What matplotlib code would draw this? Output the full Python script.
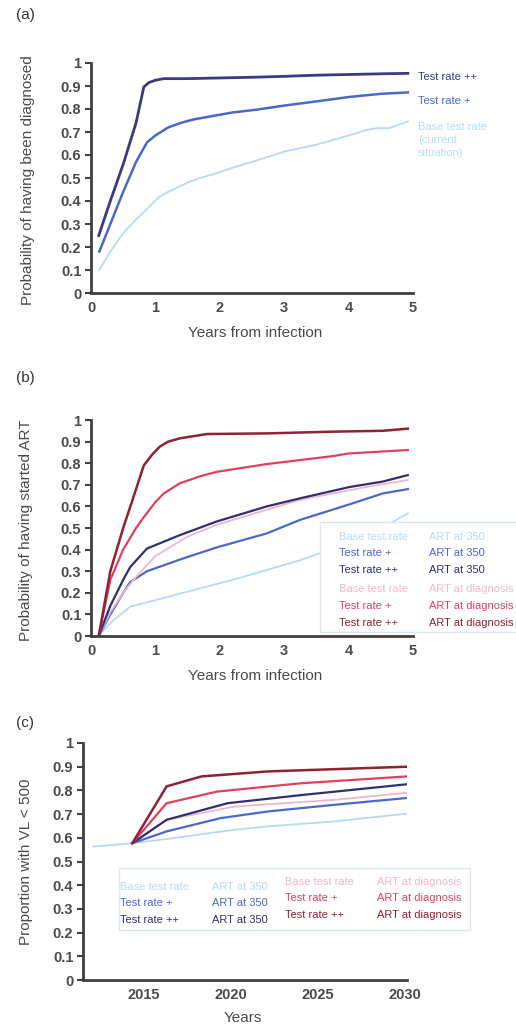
import numpy as np
import matplotlib
matplotlib.use("Agg")
import matplotlib.pyplot as plt
from matplotlib.patches import Rectangle

plt.rcParams['font.family'] = ['Liberation Sans', 'DejaVu Sans']

W, H = 516, 1027

# ---- panel (a): probability of having been diagnosed
a_x_pp = [0.12, 0.3, 0.5, 0.7, 0.82, 0.9, 1.0, 1.13, 1.5, 2.0, 2.5, 3.0, 3.5, 4.0, 4.5, 4.92]
a_pp = [0.25, 0.40, 0.56, 0.74, 0.896, 0.915, 0.925, 0.932, 0.932, 0.935, 0.938, 0.942, 0.947, 0.950, 0.953, 0.955]
a_x_p = [0.13, 0.3, 0.5, 0.7, 0.87, 1.0, 1.2, 1.4, 1.6, 2.0, 2.2, 2.57, 3.0, 3.5, 4.0, 4.5, 4.92]
a_p = [0.18, 0.30, 0.44, 0.57, 0.655, 0.685, 0.72, 0.74, 0.755, 0.775, 0.785, 0.797, 0.815, 0.833, 0.852, 0.866, 0.872]
a_x_base = [0.13, 0.3, 0.5, 0.7, 0.87, 1.07, 1.2, 1.5, 1.69, 2.0, 2.2, 2.5, 3.0, 3.5, 4.0, 4.3, 4.45, 4.64, 4.92]
a_base = [0.10, 0.18, 0.26, 0.32, 0.365, 0.42, 0.44, 0.48, 0.50, 0.525, 0.545, 0.57, 0.615, 0.645, 0.685, 0.71, 0.717, 0.717, 0.746]
a_labels = ['Test rate ++', 'Test rate +', 'Base test rate\n(current\nsituation)']

# ---- panel (b): probability of having started ART
b_x_base350 = [0.12, 0.3, 0.5, 0.61, 1.18, 2.2, 3.24, 4.28, 4.92]
b_base350 = [0.0, 0.06, 0.11, 0.136, 0.18, 0.26, 0.35, 0.46, 0.568]
b_x_p350 = [0.12, 0.3, 0.5, 0.61, 0.87, 1.44, 1.95, 2.73, 3.24, 4.02, 4.53, 4.92]
b_p350 = [0.0, 0.10, 0.20, 0.25, 0.30, 0.36, 0.41, 0.475, 0.537, 0.61, 0.66, 0.68]
b_x_pp350 = [0.12, 0.3, 0.5, 0.61, 0.87, 1.38, 1.95, 2.73, 3.24, 4.02, 4.53, 4.92]
b_pp350 = [0.0, 0.14, 0.26, 0.32, 0.405, 0.467, 0.53, 0.60, 0.637, 0.69, 0.715, 0.745]
b_x_basedx = [0.12, 0.3, 0.5, 0.66, 1.0, 1.5, 1.95, 3.24, 4.28, 4.92]
b_basedx = [0.0, 0.11, 0.20, 0.26, 0.37, 0.46, 0.515, 0.63, 0.69, 0.722]
b_x_pdx = [0.12, 0.3, 0.5, 0.7, 0.82, 1.0, 1.13, 1.38, 1.7, 1.95, 2.73, 3.76, 4.0, 4.92]
b_pdx = [0.0, 0.26, 0.40, 0.50, 0.55, 0.62, 0.66, 0.707, 0.74, 0.76, 0.796, 0.833, 0.845, 0.861]
b_x_ppdx = [0.12, 0.3, 0.5, 0.7, 0.82, 0.95, 1.07, 1.2, 1.38, 1.8, 2.73, 3.76, 4.53, 4.92]
b_ppdx = [0.0, 0.30, 0.50, 0.68, 0.79, 0.84, 0.877, 0.90, 0.915, 0.935, 0.938, 0.946, 0.95, 0.96]

# ---- panel (c): proportion with VL < 500
c_x_base350 = [2012.1, 2014.33, 2016.3, 2018.3, 2020.2, 2022.1, 2025.9, 2030.1]
c_base350 = [0.563, 0.577, 0.595, 0.615, 0.634, 0.648, 0.669, 0.702]
c_x_p350 = [2014.33, 2016.3, 2019.4, 2022.1, 2025.9, 2030.1]
c_p350 = [0.577, 0.627, 0.683, 0.711, 0.739, 0.768]
c_x_pp350 = [2014.33, 2016.3, 2019.8, 2024.0, 2030.1]
c_pp350 = [0.577, 0.676, 0.746, 0.780, 0.826]
c_x_basedx = [2014.33, 2016.3, 2020.2, 2025.9, 2030.1]
c_basedx = [0.577, 0.676, 0.732, 0.760, 0.790]
c_x_pdx = [2014.33, 2016.3, 2019.2, 2024.0, 2030.1]
c_pdx = [0.577, 0.746, 0.795, 0.830, 0.859]
c_x_ppdx = [2014.33, 2016.3, 2018.3, 2022.1, 2030.1]
c_ppdx = [0.577, 0.817, 0.859, 0.880, 0.900]

rates = ['Base test rate', 'Test rate +', 'Test rate ++']
strategies = ['ART at 350', 'ART at diagnosis']

col_base350 = '#b3dcf3'
col_p350 = '#4a68c8'
col_pp350 = '#2f2f72'
col_basedx = '#f1b6cb'
col_pdx = '#e0405e'
col_ppdx = '#8e2232'
spine_col = '#404040'
text_col = '#4a4a4a'
small = 8

fig = plt.figure(figsize=(W / 100, H / 100), dpi=100)


def fx(px):
    return px / W


def fy(py):
    return 1 - py / H


def style_axes(ax):
    for s in ['top', 'right']:
        ax.spines[s].set_visible(False)
    for s in ['left', 'bottom']:
        ax.spines[s].set_linewidth(2)
        ax.spines[s].set_color(spine_col)
    ax.set_ylim(0, 1)
    ax.set_yticks(np.arange(0, 1.01, 0.1))
    ax.set_yticklabels(['0', '0.1', '0.2', '0.3', '0.4', '0.5', '0.6', '0.7', '0.8', '0.9', '1'],
                       fontweight='bold')
    ax.tick_params(axis='y', length=4, width=1.5, color=spine_col, labelsize=10.5,
                   labelcolor=text_col, pad=3)
    ax.tick_params(axis='x', length=0, labelsize=10.5, labelcolor=text_col, pad=6)
    for t in ax.get_xticklabels():
        t.set_fontweight('bold')


def axis_text(px, py, s, rot=0):
    fig.text(fx(px), fy(py), s, fontsize=11, rotation=rot, ha='center', va='center',
             color=text_col)


# panel (a)
ax1 = fig.add_axes([fx(91), fy(293), fx(413) - fx(91), fy(63) - fy(293)])
ax1.set_xlim(0, 5)
ax1.set_xticks(range(6))
style_axes(ax1)
ax1.plot(a_x_base, a_base, color=col_base350, lw=1.3)
ax1.plot(a_x_p, a_p, color=col_p350, lw=1.8)
ax1.plot(a_x_pp, a_pp, color='#3a3a82', lw=2.0)
fig.text(fx(418), fy(77), a_labels[0], color='#3a3a82', fontsize=small, va='center')
fig.text(fx(418), fy(101), a_labels[1], color=col_p350, fontsize=small, va='center')
fig.text(fx(418), fy(122), a_labels[2], color=col_base350, fontsize=small, va='top',
         linespacing=1.35)
fig.text(fx(16), fy(15), '(a)', fontsize=11, va='center', color='#333333')
axis_text(255, 333, 'Years from infection')
axis_text(28, 180, 'Probability of having been diagnosed', 90)

# panel (b)
ax2 = fig.add_axes([fx(91), fy(636), fx(413) - fx(91), fy(420) - fy(636)])
ax2.set_xlim(0, 5)
ax2.set_xticks(range(6))
style_axes(ax2)
ax2.plot(b_x_base350, b_base350, color=col_base350, lw=1.3)
ax2.plot(b_x_p350, b_p350, color=col_p350, lw=1.6)
ax2.plot(b_x_basedx, b_basedx, color=col_basedx, lw=1.3)
ax2.plot(b_x_pp350, b_pp350, color=col_pp350, lw=1.6)
ax2.plot(b_x_pdx, b_pdx, color=col_pdx, lw=1.6)
ax2.plot(b_x_ppdx, b_ppdx, color=col_ppdx, lw=1.8)
fig.text(fx(16), fy(378), '(b)', fontsize=11, va='center', color='#333333')
axis_text(255, 676, 'Years from infection')
axis_text(26, 530, 'Probability of having started ART', 90)

b_cols = [col_base350, col_p350, col_pp350, col_basedx, col_pdx, col_ppdx]
fig.patches.append(Rectangle((fx(320), fy(632)), fx(530) - fx(320), fy(522) - fy(632),
                             transform=fig.transFigure, facecolor='white',
                             edgecolor='#dde7ef', lw=1, zorder=5))
b_rows = [537, 553, 570, 589, 606, 623]
for i, py in enumerate(b_rows):
    fig.text(fx(339), fy(py), rates[i % 3], color=b_cols[i], fontsize=small, va='center',
             zorder=6)
    fig.text(fx(429), fy(py), strategies[i // 3], color=b_cols[i], fontsize=small,
             va='center', zorder=6)

# panel (c)
ax3 = fig.add_axes([fx(83), fy(980), fx(407) - fx(83), fy(743) - fy(980)])
ax3.set_xlim(2011.5, 2030.1)
ax3.set_xticks([2015, 2020, 2025, 2030])
style_axes(ax3)
ax3.plot(c_x_base350, c_base350, color=col_base350, lw=1.3)
ax3.plot(c_x_p350, c_p350, color=col_p350, lw=1.6)
ax3.plot(c_x_basedx, c_basedx, color=col_basedx, lw=1.3)
ax3.plot(c_x_pp350, c_pp350, color=col_pp350, lw=1.6)
ax3.plot(c_x_pdx, c_pdx, color=col_pdx, lw=1.6)
ax3.plot(c_x_ppdx, c_ppdx, color=col_ppdx, lw=1.8)
fig.text(fx(16), fy(723), '(c)', fontsize=11, va='center', color='#333333')
axis_text(243, 1018, 'Years')
axis_text(26, 862, 'Proportion with VL < 500', 90)

fig.patches.append(Rectangle((fx(119), fy(930)), fx(470) - fx(119), fy(868) - fy(930),
                             transform=fig.transFigure, facecolor='white',
                             edgecolor='#dde7ef', lw=1, zorder=5))
c_left_rows = [887, 903, 920]
c_right_rows = [882, 898, 915]
for i in range(3):
    fig.text(fx(120), fy(c_left_rows[i]), rates[i], color=b_cols[i], fontsize=small,
             va='center', zorder=6)
    fig.text(fx(212), fy(c_left_rows[i]), strategies[0], color=b_cols[i], fontsize=small,
             va='center', zorder=6)
    fig.text(fx(285), fy(c_right_rows[i]), rates[i], color=b_cols[i + 3], fontsize=small,
             va='center', zorder=6)
    fig.text(fx(377), fy(c_right_rows[i]), strategies[1], color=b_cols[i + 3],
             fontsize=small, va='center', zorder=6)

fig.savefig('out.png', dpi=100)
